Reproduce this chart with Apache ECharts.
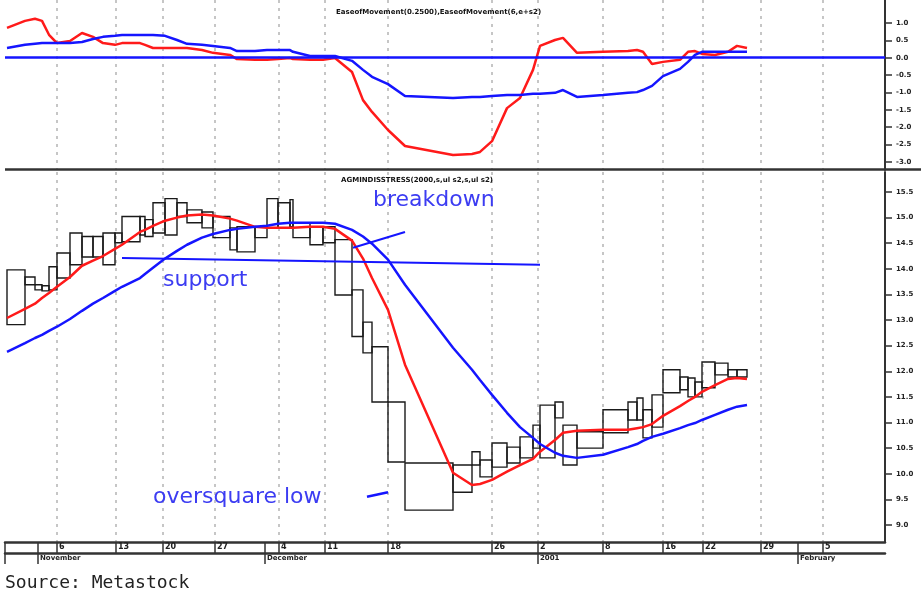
<!DOCTYPE html>
<html><head><meta charset="utf-8">
<script src="https://cdn.jsdelivr.net/npm/echarts@6/dist/echarts.min.js"></script>
<style>html,body{margin:0;padding:0;background:#fff}#c{width:921px;height:592px}</style>
</head><body><div id="c"></div>
<script>
// Equivolume boxes: width = volume, top = high, bottom = low
const volumes = [18,10,7,7,8,13,12,11,10,12,7,18,5,8,12,12,10,15,11,17,7,18,12,11,12,3,17,13,12,17,11,9,16,17,48,19,8,12,15,13,13,7,15,8,14,26,25,9,6,9,11,17,8,7,7,13,13,9,10];
const highs = [13.98,13.84,13.69,13.67,14.04,14.31,14.70,14.63,14.63,14.70,14.70,15.02,15.02,14.96,15.29,15.37,15.29,15.15,15.11,15.02,14.80,14.82,14.82,15.37,15.29,15.35,14.90,14.82,14.82,14.57,13.59,12.96,12.48,11.40,10.21,10.17,10.43,10.27,10.60,10.52,10.72,10.95,11.34,11.40,10.95,10.82,11.25,11.40,11.48,11.25,11.54,12.03,11.89,11.87,11.79,12.18,12.16,12.03,12.03];
const lows = [12.91,13.69,13.59,13.57,13.59,13.82,14.08,14.23,14.23,14.08,14.51,14.53,14.66,14.63,14.70,14.66,15.02,14.90,14.80,14.61,14.37,14.33,14.61,14.80,14.80,14.82,14.61,14.47,14.51,13.49,12.68,12.36,11.40,10.23,9.29,9.64,10.17,9.94,10.13,10.21,10.31,10.50,10.31,11.09,10.17,10.50,10.80,11.05,11.05,10.70,10.91,11.58,11.64,11.50,11.50,11.68,11.93,11.89,11.89];
// moving averages, read at each box boundary (60 values)
const maShort = [13.04,13.22,13.32,13.43,13.53,13.65,13.84,14.06,14.16,14.25,14.39,14.47,14.72,14.76,14.84,14.94,15.00,15.04,15.06,15.04,14.98,14.94,14.82,14.80,14.80,14.80,14.80,14.82,14.82,14.78,14.55,14.20,13.82,13.20,12.13,10.02,9.78,9.80,9.88,10.04,10.17,10.29,10.43,10.66,10.80,10.84,10.86,10.86,10.89,10.91,10.97,11.13,11.32,11.42,11.50,11.60,11.73,11.85,11.87,11.85];
const maLong = [12.38,12.55,12.65,12.71,12.79,12.87,13.02,13.18,13.32,13.43,13.57,13.65,13.82,13.90,14.02,14.20,14.35,14.47,14.61,14.68,14.76,14.78,14.82,14.84,14.88,14.90,14.90,14.90,14.90,14.88,14.76,14.63,14.49,14.18,13.69,12.46,12.03,11.83,11.54,11.19,10.91,10.70,10.58,10.41,10.35,10.31,10.37,10.52,10.58,10.64,10.72,10.78,10.89,10.95,10.99,11.05,11.15,11.25,11.31,11.34];
// Ease of Movement (60 values)
const emvShort = [0.86,1.06,1.12,1.06,0.66,0.42,0.48,0.71,0.60,0.42,0.37,0.42,0.42,0.37,0.28,0.28,0.28,0.28,0.22,0.14,0.08,-0.04,-0.06,-0.06,-0.04,-0.01,-0.04,-0.06,-0.06,-0.01,-0.41,-1.22,-1.56,-2.08,-2.54,-2.80,-2.77,-2.71,-2.40,-1.45,-1.16,-0.35,0.34,0.51,0.57,0.14,0.17,0.19,0.22,0.17,-0.18,-0.12,-0.06,0.17,0.19,0.11,0.08,0.17,0.34,0.28];
const emvLong = [0.28,0.37,0.40,0.42,0.42,0.42,0.42,0.45,0.54,0.60,0.63,0.65,0.65,0.65,0.65,0.63,0.51,0.40,0.37,0.34,0.28,0.19,0.19,0.22,0.22,0.22,0.17,0.05,0.05,0.05,-0.09,-0.35,-0.55,-0.76,-1.10,-1.16,-1.13,-1.13,-1.10,-1.07,-1.07,-1.04,-1.04,-1.01,-0.93,-1.13,-1.07,-1.01,-0.99,-0.93,-0.81,-0.53,-0.32,-0.12,0.08,0.17,0.17,0.17,0.17,0.17];
// date axis (positions in cumulative volume)
const dayPos = [50,109,156,208,272,318,381,485,531,596,656,696,754,816];
const dayLabels = ['6','13','20','27','4','11','18','26','2','8','16','22','29','5'];
const monthPos = [31,258,531,791];
const monthLabels = ['November','December','2001','February'];
const emvTicks = [1,0.5,0,-0.5,-1,-1.5,-2,-2.5,-3];
const priceTicks = [9,9.5,10,10.5,11,11.5,12,12.5,13,13.5,14,14.5,15,15.5];
// annotations
const supportLine = [[115,14.21],[533,14.08]];
const breakdownLine = [[346,14.41],[398,14.72]];
const lowLine = [[360,9.55],[381,9.64]];
const notes = [
  {text:'breakdown', x:366, y:15.33},
  {text:'support', x:156, y:13.77},
  {text:'oversquare low', x:146, y:9.55}
];

const XMIN = -2, XMAX = 878;
const bounds = [0];
volumes.forEach(v => bounds.push(bounds[bounds.length-1] + v));
const boxes = volumes.map((v,i) => [bounds[i], bounds[i+1], highs[i], lows[i]]);
const pair = arr => arr.map((v,i) => [bounds[i], v]);

const RED = '#ff1a1a', BLUE = '#1515ff', TXT = '#3c3cf2';

const chart = echarts.init(document.getElementById('c'), null, {renderer:'canvas'});

const gridLinesSeries = (xi, yi) => ({
  type:'custom', xAxisIndex:xi, yAxisIndex:yi, silent:true, z:0,
  data: dayPos.map(v => [v]), encode:{x:0},
  renderItem:(params, api) => {
    const cs = params.coordSys;
    const x = api.coord([api.value(0), yi === 0 ? 0 : 12])[0];
    return {type:'line', shape:{x1:x, y1:cs.y, x2:x, y2:cs.y+cs.height},
      style:{stroke:'#b4b4b4', lineWidth:1.5, lineDash:[3,5]}};
  }
});

const yAxisCommon = (ticks, min, max) => ({
  type:'value', position:'right', min, max,
  axisLine:{show:true, onZero:false, lineStyle:{color:'#333', width:2}},
  axisTick:{show:true, customValues:ticks, length:7, lineStyle:{color:'#333', width:1.5}},
  axisLabel:{show:true, customValues:ticks, margin:11, fontSize:7, fontWeight:'bold',
    fontFamily:'DejaVu Sans', color:'#222', formatter:v => v.toFixed(1)},
  splitLine:{show:false}
});

chart.setOption({
  animation:false,
  backgroundColor:'#fff',
  grid:[
    {left:5, right:36, top:0, height:170},
    {left:5, right:36, top:172, height:370}
  ],
  xAxis:[
    {type:'value', gridIndex:0, min:XMIN, max:XMAX, show:false, axisLine:{onZero:false}},
    {type:'value', gridIndex:1, min:XMIN, max:XMAX, position:'bottom',
      axisLine:{show:true, onZero:false, lineStyle:{color:'#333', width:2.5}},
      axisTick:{show:true, customValues:[XMIN].concat(dayPos, monthPos), length:11, lineStyle:{color:'#333', width:1.5}},
      axisLabel:{show:true, customValues:dayPos, align:'left', margin:1, padding:[0,0,0,2], fontSize:8, fontWeight:'bold',
        fontFamily:'DejaVu Sans', color:'#222', formatter:v => dayLabels[dayPos.indexOf(v)] || ''},
      splitLine:{show:false}},
    {type:'value', gridIndex:1, min:XMIN, max:XMAX, position:'bottom', offset:11,
      axisLine:{show:true, onZero:false, lineStyle:{color:'#333', width:2.5}},
      axisTick:{show:true, customValues:[XMIN].concat(monthPos), length:11, lineStyle:{color:'#333', width:1.5}},
      axisLabel:{show:true, customValues:monthPos, align:'left', margin:2, padding:[0,0,0,2], fontSize:7, fontWeight:'bold',
        fontFamily:'DejaVu Sans', color:'#222', formatter:v => monthLabels[monthPos.indexOf(v)] || ''},
      splitLine:{show:false}}
  ],
  yAxis:[
    Object.assign({gridIndex:0}, yAxisCommon(emvTicks, -3.23, 1.66)),
    Object.assign({gridIndex:1}, yAxisCommon(priceTicks, 8.668, 15.89))
  ],
  graphic:[
    {type:'line', shape:{x1:5, y1:169.5, x2:921, y2:169.5}, style:{stroke:'#333', lineWidth:2.5}, z:50},
    {type:'text', x:336, y:12, style:{text:'EaseofMovement(0.2500),EaseofMovement(6,e+s2)', fill:'#111',
      font:'bold 7px DejaVu Sans', textAlign:'left', textVerticalAlign:'middle'}, z:50},
    {type:'text', x:341, y:180, style:{text:'AGMINDISSTRESS(2000,s,ul s2,s,ul s2)', fill:'#111',
      font:'bold 7px DejaVu Sans', textAlign:'left', textVerticalAlign:'middle'}, z:50},
    {type:'text', x:5, y:583, style:{text:'Source: Metastock', fill:'#222',
      font:'18px DejaVu Sans Mono', textAlign:'left', textVerticalAlign:'middle'}, z:50}
  ],
  series:[
    gridLinesSeries(0,0),
    gridLinesSeries(1,1),
    {type:'line', xAxisIndex:0, yAxisIndex:0, data:pair(emvShort), showSymbol:false, z:3,
      lineStyle:{color:RED, width:2.5}, itemStyle:{color:RED},
      markLine:{silent:true, symbol:'none', label:{show:false}, lineStyle:{color:BLUE, width:2.5, type:'solid'}, data:[{yAxis:0}]}},
    {type:'line', xAxisIndex:0, yAxisIndex:0, data:pair(emvLong), showSymbol:false, z:4,
      lineStyle:{color:BLUE, width:2.5}, itemStyle:{color:BLUE}},
    {type:'custom', xAxisIndex:1, yAxisIndex:1, data:boxes, encode:{x:[0,1], y:[2,3]}, z:2,
      renderItem:(params, api) => {
        const p1 = api.coord([api.value(0), api.value(2)]);
        const p2 = api.coord([api.value(1), api.value(3)]);
        return {type:'rect', shape:{x:p1[0], y:p1[1], width:p2[0]-p1[0], height:p2[1]-p1[1]},
          style:{fill:'none', stroke:'#1a1a1a', lineWidth:1.4}};
      }},
    {type:'line', xAxisIndex:1, yAxisIndex:1, data:pair(maShort), showSymbol:false, z:4,
      lineStyle:{color:RED, width:2.5}},
    {type:'line', xAxisIndex:1, yAxisIndex:1, data:pair(maLong), showSymbol:false, z:4,
      lineStyle:{color:BLUE, width:2.5}},
    {type:'line', xAxisIndex:1, yAxisIndex:1, data:supportLine, showSymbol:false, z:5, lineStyle:{color:BLUE, width:2}},
    {type:'line', xAxisIndex:1, yAxisIndex:1, data:breakdownLine, showSymbol:false, z:5, lineStyle:{color:BLUE, width:2}},
    {type:'line', xAxisIndex:1, yAxisIndex:1, data:lowLine, showSymbol:false, z:5, lineStyle:{color:BLUE, width:2.5}},
    {type:'custom', xAxisIndex:1, yAxisIndex:1, data:notes.map(n => [n.x, n.y]), encode:{x:0, y:1}, z:6, silent:true,
      renderItem:(params, api) => {
        const p = api.coord([api.value(0), api.value(1)]);
        return {type:'text', x:p[0], y:p[1], style:{text:notes[params.dataIndex].text, fill:TXT,
          font:'22px DejaVu Sans', textAlign:'left', textVerticalAlign:'middle'}};
      }}
  ]
});
</script></body></html>
